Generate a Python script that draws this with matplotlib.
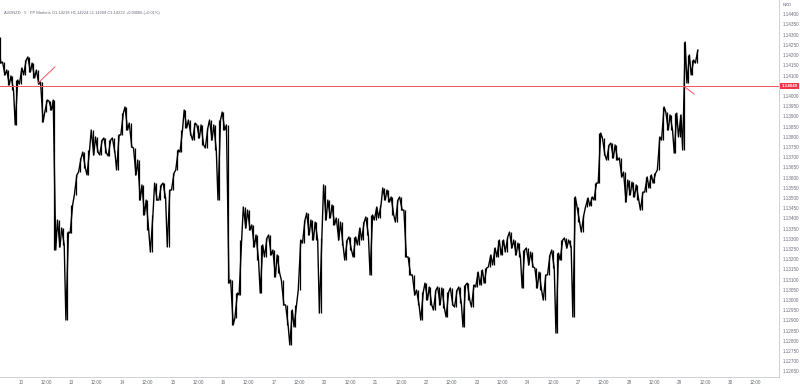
import matplotlib.pyplot as plt
import matplotlib.transforms as mtransforms
import numpy as np

# AUDNZD, 2-hour high/low
highs = [1.14289, 1.14166, 1.14127, 1.14098, 1.14078, 1.14137, 1.14176, 1.14191, 1.14161, 1.14127,
         1.14068, 1.13980, 1.13975, 1.13980, 1.13392, 1.13353, 1.13333, 1.13466, 1.13613, 1.13696,
         1.13725, 1.13735, 1.13833, 1.13799, 1.13784, 1.13794, 1.13784, 1.13794, 1.13809, 1.13916,
         1.13946, 1.13867, 1.13745, 1.13686, 1.13564, 1.13490, 1.13417, 1.13573, 1.13564, 1.13573,
         1.13539, 1.13622, 1.13735, 1.13833, 1.13931, 1.13882, 1.13867, 1.13858, 1.13858, 1.13843,
         1.13882, 1.13858, 1.13882, 1.13921, 1.13858, 1.13098, 1.13034, 1.13294, 1.13456, 1.13441,
         1.13368, 1.13319, 1.13270, 1.13304, 1.13319, 1.13245, 1.13221, 1.13098, 1.12976, 1.12951,
         1.12976, 1.13294, 1.13392, 1.13426, 1.13392, 1.13382, 1.13304, 1.13564, 1.13490, 1.13466,
         1.13402, 1.13382, 1.13294, 1.13309, 1.13309, 1.13353, 1.13382, 1.13407, 1.13417, 1.13456,
         1.13466, 1.13549, 1.13539, 1.13505, 1.13490, 1.13505, 1.13441, 1.13211, 1.13123, 1.13049,
         1.13039, 1.13083, 1.13064, 1.13049, 1.13064, 1.13059, 1.13039, 1.13059, 1.13049, 1.13064,
         1.13074, 1.13083, 1.13074, 1.13137, 1.13147, 1.13157, 1.13221, 1.13255, 1.13294, 1.13294,
         1.13309, 1.13333, 1.13294, 1.13279, 1.13245, 1.13255, 1.13235, 1.13157, 1.13137, 1.13123,
         1.13221, 1.13245, 1.13230, 1.13294, 1.13304, 1.13294, 1.13505, 1.13456, 1.13417, 1.13500,
         1.13505, 1.13573, 1.13818, 1.13794, 1.13760, 1.13769, 1.13760, 1.13696, 1.13627, 1.13588,
         1.13578, 1.13564, 1.13529, 1.13603, 1.13613, 1.13622, 1.13799, 1.13946, 1.13921, 1.13907,
         1.13916, 1.13907, 1.14264, 1.14201, 1.14176, 1.14225]
lows = [1.14161, 1.14103, 1.14054, 1.14029, 1.13858, 1.14058, 1.14103, 1.14117, 1.14088, 1.14058,
        1.13872, 1.13921, 1.13931, 1.13245, 1.13260, 1.13270, 1.12902, 1.13328, 1.13515, 1.13627,
        1.13647, 1.13613, 1.13711, 1.13725, 1.13711, 1.13720, 1.13706, 1.13725, 1.13637, 1.13809,
        1.13833, 1.13750, 1.13613, 1.13490, 1.13417, 1.13343, 1.13235, 1.13490, 1.13490, 1.13500,
        1.13260, 1.13539, 1.13637, 1.13725, 1.13843, 1.13809, 1.13784, 1.13794, 1.13760, 1.13745,
        1.13784, 1.13735, 1.13490, 1.13833, 1.13083, 1.12878, 1.12912, 1.13025, 1.13353, 1.13343,
        1.13260, 1.13196, 1.13034, 1.13211, 1.13221, 1.13113, 1.13132, 1.12976, 1.12878, 1.12780,
        1.12868, 1.13049, 1.13279, 1.13319, 1.13294, 1.13294, 1.12936, 1.13392, 1.13402, 1.13368,
        1.13294, 1.13270, 1.13196, 1.13245, 1.13211, 1.13270, 1.13294, 1.13319, 1.13123, 1.13392,
        1.13402, 1.13490, 1.13480, 1.13417, 1.13382, 1.13441, 1.13211, 1.13123, 1.13025, 1.12976,
        1.12902, 1.13000, 1.12976, 1.12951, 1.12976, 1.12961, 1.12917, 1.12976, 1.12966, 1.12985,
        1.12868, 1.13000, 1.12966, 1.13064, 1.13074, 1.13083, 1.13162, 1.13172, 1.13211, 1.13221,
        1.13235, 1.13255, 1.13221, 1.13211, 1.13059, 1.13172, 1.13162, 1.13059, 1.13049, 1.13000,
        1.13123, 1.13157, 1.12838, 1.13196, 1.13255, 1.13260, 1.12917, 1.13382, 1.13333, 1.13456,
        1.13461, 1.13490, 1.13573, 1.13711, 1.13686, 1.13696, 1.13686, 1.13603, 1.13480, 1.13515,
        1.13505, 1.13490, 1.13441, 1.13529, 1.13549, 1.13573, 1.13637, 1.13784, 1.13833, 1.13833,
        1.13720, 1.13799, 1.13735, 1.14063, 1.14103, 1.14161]

day_labels = ['10', '13', '14', '15', '16', '17', '20', '21', '22', '23', '24', '27', '28', '29', '30']
line_price = 1.14049
# two small trendline drawings (bar index, price)
draw1_x = [9.1, 13.1]
draw1_y = [1.14063, 1.14142]
draw2_x = [162.2, 164.4]
draw2_y = [1.14044, 1.14009]

header = 'AUDNZD \u00b7 5 \u00b7 FP Markets O1.14218 H1.14224 L1.14209 C1.14222 +0.00006 (+0.01%)'

plt.rcParams['font.family'] = ['Liberation Sans', 'DejaVu Sans']

fig = plt.figure(figsize=(8, 3.85), dpi=100)
ax = fig.add_axes([0, 8 / 385, 779 / 800, 377 / 385])

idx = np.arange(len(highs))
ax.vlines(idx, lows, highs, color='black', lw=0.9)

# zigzag through each bar's extremes so it reads like dense price action
zx, zy = [], []
for i in range(len(highs)):
    mid = (highs[i] + lows[i]) / 2
    nxt = (highs[i + 1] + lows[i + 1]) / 2 if i + 1 < len(highs) else mid
    zx += [i - 0.3, i + 0.3]
    if nxt >= mid:
        zy += [lows[i], highs[i]]
    else:
        zy += [highs[i], lows[i]]
ax.plot(zx, zy, color='black', lw=1.0)

ax.axhline(line_price, color='#f7525f', lw=0.7)
ax.plot(draw1_x, draw1_y, color='#f7525f', lw=0.7)
ax.plot(draw2_x, draw2_y, color='#f7525f', lw=0.7)

ax.set_xlim(0.1, 184.5)
ax.set_ylim(1.12623, 1.14470)

xt, xl = [], []
for k, d in enumerate(day_labels):
    xt += [12 * k + 5, 12 * k + 11]
    xl += [d, '12:00']
ax.set_xticks(xt)
ax.set_xticklabels(xl)

yt = np.arange(1.12650, 1.144001, 0.0005)
yt = [v for v in yt if abs(v - 1.14050) > 0.0001]
ax.yaxis.tick_right()
ax.set_yticks(yt)
ax.set_yticklabels(['%.5f' % v for v in yt])

ax.tick_params(axis='both', length=0, labelsize=3.3, colors='#6a6d78')
ax.tick_params(axis='y', pad=2.5)
ax.tick_params(axis='x', pad=2.5)
for s in ['top', 'left']:
    ax.spines[s].set_visible(False)
for s in ['right', 'bottom']:
    ax.spines[s].set_color('#c8cad0')
    ax.spines[s].set_linewidth(0.6)

trans = mtransforms.blended_transform_factory(ax.transAxes, ax.transData)
ax.text(1.003, line_price, '%.5f' % line_price, transform=trans, fontsize=3.2, color='white',
        ha='left', va='center', fontweight='bold',
        bbox=dict(boxstyle='square,pad=0.3', fc='#f23645', ec='none'))

fig.text(4 / 800, 1 - 13 / 385, header, fontsize=2.9, color='#6a6d78', ha='left', va='center')
fig.text(783 / 800, 1 - 5 / 385, 'NZD', fontsize=3.2, color='#6a6d78', ha='left', va='center')

fig.savefig('out.png', dpi=100, facecolor='white')
